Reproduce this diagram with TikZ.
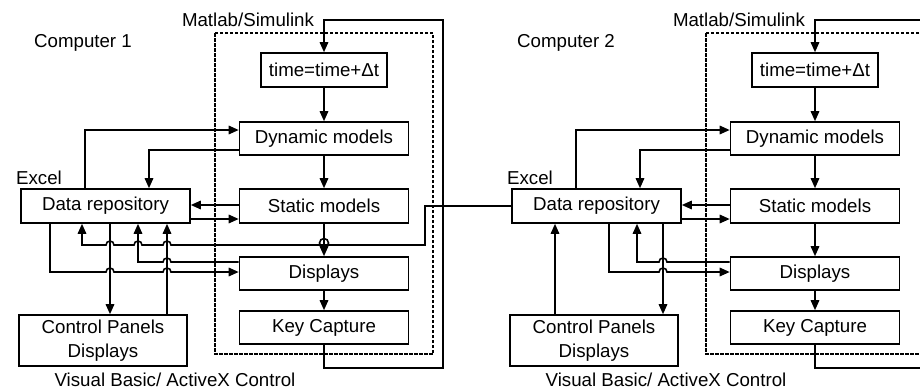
\documentclass[tikz,border=0pt]{standalone}
\usepackage{fontspec}
\setmainfont{Liberation Sans}
\usetikzlibrary{arrows.meta}

\tikzset{
  blok/.style={draw, inner sep=0pt, minimum width=169pt, minimum height=34pt},
  dashbox/.style={line width=2.3pt, dash pattern=on 3.5pt off 1.5pt},
}

\begin{document}
\begin{tikzpicture}[x=1pt,y=-1pt, line width=1.6pt, >={Triangle[length=10pt,width=8.5pt]},
  font=\fontsize{18.7}{23.5}\selectfont]
    \useasboundingbox (0,0) rectangle (920,391);
    \clip (0,0) rectangle (920,391);

    \node[anchor=west] (cmp1) at (30,43) {Computer 1};
    \node[anchor=west] (cmp2) at (513,43) {Computer 2};

    \foreach \i/\dx in {1/0,2/491}{
      \node[blok, minimum width=126pt] (tim\i) at (324+\dx,70) {time=time+Δt};
      \node[blok, minimum height=33pt] (dyn\i) at (324+\dx,138.5) {Dynamic models};
      \node[blok] (sta\i) at (324+\dx,206) {Static models};
      \node[blok, minimum height=33pt] (dis\i) at (324+\dx,273.5) {Displays};
      \node[blok, minimum height=33pt] (key\i) at (324+\dx,327.5) {Key Capture};
      \node[blok] (rep\i) at (105.5+\dx,206) {Data repository};
      \node[blok, minimum width=168pt, minimum height=51pt, align=center] (pan\i) at (103+\dx,340.5) {Control Panels\\Displays};
      \node (mat\i) at (248+\dx,20) {Matlab/Simulink};
      \node[anchor=west] (exc\i) at (12+\dx,178) {Excel};
      \node (vb\i) at (175+\dx,380) {Visual Basic/ ActiveX Control};

      \draw[dashbox] (215+\dx,33) rectangle (433+\dx,354);

      \draw[->] (tim\i) -- (dyn\i);
      \draw[->] (dyn\i) -- (sta\i);
      \draw[->] (sta\i) -- (dis\i);
      \draw[->] (dis\i) -- (key\i);
      \draw[->] (key\i.south) |- (443+\dx,368) |- (tim\i.north |- 0,20) -- (tim\i.north);

      \draw[->] (rep\i.north -| 85+\dx,0) |- (dyn\i.west |- 0,130);
      \draw[->] (dyn\i.west |- 0,150) -| (rep\i.north -| 149+\dx,0);
      \draw[->] (sta\i.west |- 0,205) -- (rep\i.east |- 0,205);
      \draw[->] (rep\i.east |- 0,219) -- (sta\i.west |- 0,219);
    }

    % computer 1
    \draw[->] (rep2.west) -| (425,245) -- (171,245) arc[start angle=0,end angle=180,radius=4pt]
      -- (142,245) arc[start angle=0,end angle=180,radius=4pt]
      -- (114,245) arc[start angle=0,end angle=180,radius=4pt]
      -- (82,245) -- (rep1.south -| 82,0);
    \draw (324,243) circle[radius=4.5pt];
    \draw[->] (dis1.west |- 0,262) -- (171,262) arc[start angle=0,end angle=180,radius=4pt]
      -- (138,262) -- (rep1.south -| 138,0);
    \draw[->] (rep1.south -| 50,0) |- (106,272) arc[start angle=180,end angle=0,radius=4pt]
      -- (163,272) arc[start angle=180,end angle=0,radius=4pt] -- (dis1.west |- 0,272);
    \draw[->] (rep1.south -| 110,0) -- (pan1.north -| 110,0);
    \draw[->] (pan1.north -| 167,0) -- (rep1.south -| 167,0);

    % computer 2
    \draw[->] (dis2.west |- 0,262) -- (667,262) arc[start angle=0,end angle=180,radius=4pt]
      -- (637,262) -- (rep2.south -| 637,0);
    \draw[->] (rep2.south -| 609,0) |- (659,272) arc[start angle=180,end angle=0,radius=4pt]
      -- (dis2.west |- 0,272);
    \draw[->] (rep2.south -| 663,0) -- (pan2.north -| 663,0);
    \draw[->] (pan2.north -| 555,0) -- (rep2.south -| 555,0);
\end{tikzpicture}
\end{document}
